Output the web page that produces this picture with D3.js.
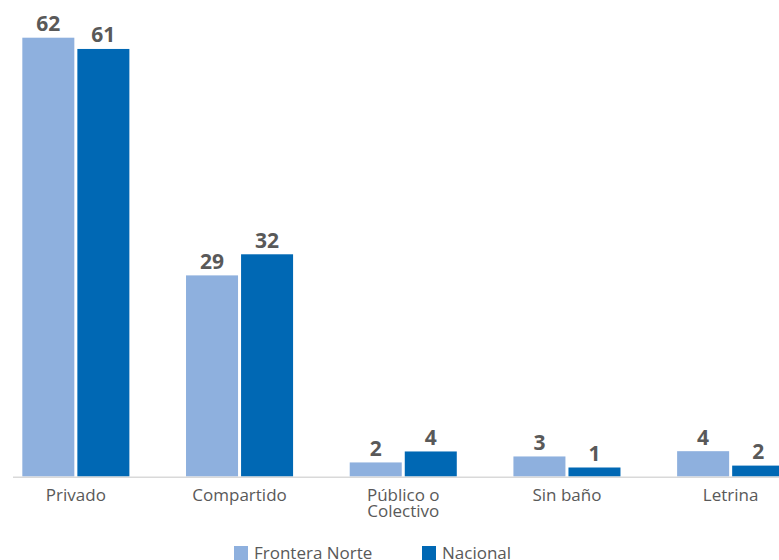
<!DOCTYPE html>
<html>
<head>
<meta charset="utf-8">
<script src="https://cdn.jsdelivr.net/npm/d3@7"></script>
<style>
  html, body { margin: 0; padding: 0; background: #fff; }
  svg { display: block; }
</style>
</head>
<body>
<svg id="chart" width="779" height="560"></svg>
<script>
const categories = ["Privado", "Compartido", "Público o Colectivo", "Sin baño", "Letrina"];
const categoryLines = [["Privado"], ["Compartido"], ["Público o", "Colectivo"], ["Sin baño"], ["Letrina"]];
const seriesNames = ["Frontera Norte", "Nacional"];
const fronteraNorte = [62.4, 28.6, 2.0, 2.85, 3.6];
const nacional = [60.8, 31.6, 3.56, 1.28, 1.55];
const colors = ["#8EB0DE", "#0068B4"];

const svg = d3.select("#chart");
const baseY = 476.5;

const x0 = d3.scaleBand()
  .domain(categories)
  .range([-6, 812.5])
  .paddingInner(0.346)
  .paddingOuter(0.173);

const x1 = d3.scaleBand()
  .domain(seriesNames)
  .range([0, x0.bandwidth()])
  .paddingInner(0.055);

const y = d3.scaleLinear().domain([0, 62.4]).range([baseY, 37.7]);

const seriesData = [fronteraNorte, nacional];
const fmt = v => String(Math.round(v));

const groups = svg.append("g").selectAll("g")
  .data(categories)
  .join("g")
  .attr("transform", d => `translate(${x0(d)},0)`);

groups.selectAll("rect")
  .data((d, i) => seriesNames.map((s, j) => ({ s, v: seriesData[j][i], j })))
  .join("rect")
  .attr("x", d => x1(d.s))
  .attr("y", d => y(d.v))
  .attr("width", x1.bandwidth())
  .attr("height", d => baseY - y(d.v))
  .attr("fill", d => colors[d.j]);

groups.selectAll("text.val")
  .data((d, i) => seriesNames.map((s, j) => ({ s, v: seriesData[j][i], j })))
  .join("text")
  .attr("class", "val")
  .attr("x", d => x1(d.s) + x1.bandwidth() / 2)
  .attr("y", d => y(d.v) - 6.5)
  .attr("text-anchor", "middle")
  .attr("font-family", "'Open Sans', sans-serif")
  .attr("font-weight", 700)
  .attr("font-size", 21)
  .attr("fill", "#595959")
  .text(d => fmt(d.v));

// axis baseline
svg.append("line")
  .attr("x1", 13).attr("x2", 779)
  .attr("y1", baseY + 0.8).attr("y2", baseY + 0.8)
  .attr("stroke", "#D9D9D9")
  .attr("stroke-width", 1.6);

// category labels
const catText = svg.append("g").selectAll("text")
  .data(categories)
  .join("text")
  .attr("x", d => x0(d) + x0.bandwidth() / 2)
  .attr("y", 501)
  .attr("text-anchor", "middle")
  .attr("font-family", "'Open Sans', sans-serif")
  .attr("font-size", 17)
  .attr("fill", "#595959");

catText.each(function(d, i) {
  const t = d3.select(this);
  categoryLines[i].forEach((line, k) => {
    t.append("tspan")
      .attr("x", x0(d) + x0.bandwidth() / 2)
      .attr("dy", k === 0 ? 0 : 15.5)
      .text(line);
  });
});

// legend
const legendX = [234, 422];
const legend = svg.append("g").selectAll("g")
  .data(seriesNames)
  .join("g")
  .attr("transform", (d, i) => `translate(${legendX[i]},546)`);

legend.append("rect")
  .attr("width", 14).attr("height", 14)
  .attr("fill", (d, i) => colors[i]);

legend.append("text")
  .attr("x", 20)
  .attr("y", 13)
  .attr("font-family", "'Open Sans', sans-serif")
  .attr("font-size", 17)
  .attr("fill", "#595959")
  .text(d => d);
</script>
</body>
</html>
